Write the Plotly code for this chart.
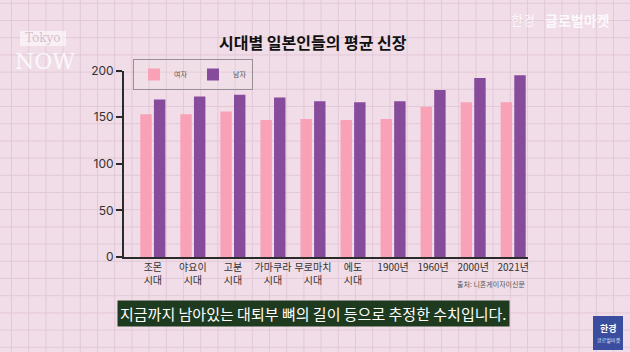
import plotly.graph_objects as go

categories = ["조몬<br>시대", "야요이<br>시대", "고분<br>시대", "가마쿠라<br>시대", "무로마치<br>시대",
              "에도<br>시대", "1900년", "1960년", "2000년", "2021년"]
female = [153, 153, 156, 147, 148, 147, 148, 161, 166, 166]
male = [169, 172, 174, 171, 167, 166, 167, 179, 192, 195]
y_ticks = [0, 50, 100, 150, 200]

W, H = 630, 352
BG = "#F0DDE7"
GRID = "#E3C8D7"
PINK = "#F9A1B6"
PURPLE = "#874B9C"
FONT = "Noto Sans CJK KR"

fig = go.Figure()
fig.add_trace(go.Bar(x=categories, y=female, name="여자", marker_color=PINK,
                     marker_line_width=0))
fig.add_trace(go.Bar(x=categories, y=male, name="남자", marker_color=PURPLE,
                     marker_line_width=0))

x0, x1 = 124, 528
y0, y1 = 257, 70.5

fig.update_layout(
    width=W, height=H,
    margin=dict(l=0, r=0, t=0, b=0, pad=0, autoexpand=False),
    paper_bgcolor=BG, plot_bgcolor="rgba(0,0,0,0)",
    font=dict(family=FONT, color="#333333"),
    barmode="group", bargap=0.32, bargroupgap=0.16,
    showlegend=True,
    legend=dict(orientation="h", x=133 / W, y=1 - 59 / H, xanchor="left", yanchor="top",
                bordercolor="#9a8f96", borderwidth=1, bgcolor="rgba(255,255,255,0.08)",
                font=dict(size=7, color="#555555"), entrywidth=14, itemwidth=30,
                tracegroupgap=0),
    xaxis=dict(domain=[x0 / W, x1 / W], range=[-0.72, 9.37],
               showline=True, linecolor="#2b2b2b", linewidth=2, ticks="",
               showgrid=False, tickfont=dict(size=10, color="#333333"), tickangle=0),
    yaxis=dict(domain=[1 - y0 / H, 1 - y1 / H], range=[0, 200],
               tickvals=y_ticks, showline=True, linecolor="#2b2b2b", linewidth=2,
               ticks="outside", ticklen=6, tickwidth=2, tickcolor="#2b2b2b",
               showgrid=False, zeroline=False,
               tickfont=dict(size=12, color="#333333", family="Inter")),
)


def text(t, x, y, size, color, family=FONT, xanchor="center", **kw):
    return dict(text=t, x=x / W, y=1 - y / H, xref="paper", yref="paper", showarrow=False,
                xanchor=xanchor, yanchor="middle",
                font=dict(size=size, color=color, family=family), **kw)


ann = [
    text("<b>시대별 일본인들의 평균 신장</b>", 313, 42, 16, "#111111"),
    text("출처: 니혼게이자이신문", 527, 284, 7, "#555555", xanchor="right"),
    text("지금까지 남아있는 대퇴부 뼈의 길이 등으로 추정한 수치입니다.", 313, 313, 15, "#FFFFFF",
         bgcolor="#1F3B1F", borderpad=2),
    text("한경", 523, 20, 13, "rgba(255,255,255,0.75)"),
    text("<b>글로벌마켓</b>", 577, 20, 14, "rgba(255,255,255,0.85)"),
    text("Tokyo", 43, 38, 12, "#D9BFCD", family="DejaVu Serif"),
    text("NOW", 45, 61, 22, "rgba(255,255,255,0.8)", family="DejaVu Serif"),
    text("<b>한경</b>", 608, 328, 9, "#FFFFFF"),
    text("글로벌마켓", 608, 340, 5, "#dde3ff"),
]
fig.update_layout(annotations=ann)

shapes = []
# graph-paper background grid
gx = 11.5
while gx < W:
    shapes.append(dict(type="line", xref="paper", yref="paper", x0=gx / W, x1=gx / W, y0=0, y1=1,
                       line=dict(color=GRID, width=1), layer="below"))
    gx += 17.2
gy = 3.3
while gy < H:
    shapes.append(dict(type="line", xref="paper", yref="paper", x0=0, x1=1, y0=1 - gy / H,
                       y1=1 - gy / H, line=dict(color=GRID, width=1), layer="below"))
    gy += 17.2
shapes.append(dict(type="rect", xref="paper", yref="paper", x0=593 / W, x1=623 / W,
                   y0=1 - 350 / H, y1=1 - 316 / H, fillcolor="#3A4D9E", line_width=0,
                   layer="below"))
shapes.append(dict(type="rect", xref="paper", yref="paper", x0=20 / W, x1=66 / W,
                   y0=1 - 46 / H, y1=1 - 31 / H, fillcolor="rgba(255,255,255,0.55)",
                   line_width=0, layer="below"))
fig.update_layout(shapes=shapes)

fig.write_html("out.html")
